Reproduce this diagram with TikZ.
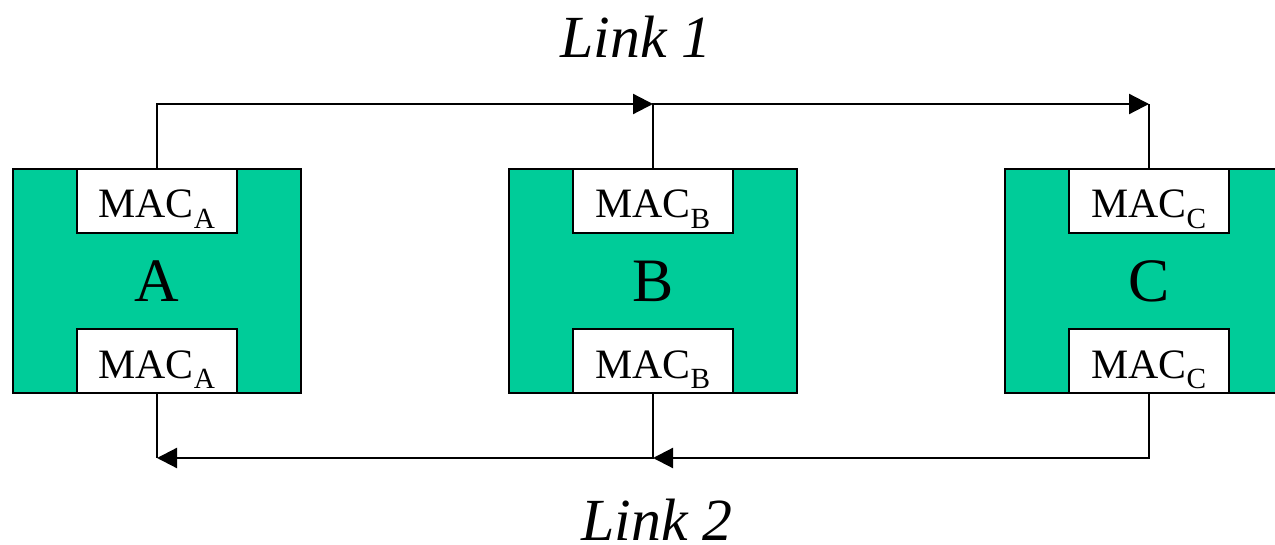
\documentclass[tikz,border=0pt]{standalone}
\usepackage{fontspec}
\setmainfont{Liberation Serif}
\usetikzlibrary{arrows.meta,positioning}
\definecolor{stationgreen}{RGB}{0,204,153}

\begin{document}
\begin{tikzpicture}[x=1bp, y=-1bp,
  station/.style={draw, line width=2.2bp, fill=stationgreen, minimum width=288bp,
    minimum height=224bp, inner sep=0pt, outer sep=0pt,
    font=\fontsize{62}{66}\selectfont},
  mac/.style={draw, line width=2.2bp, fill=white, minimum width=160bp,
    minimum height=64bp, inner sep=0pt, outer sep=0pt,
    text height=34bp, text depth=0pt,
    font=\fontsize{42}{46}\selectfont},
  wire/.style={line width=2.2bp},
  link/.style={wire, -{Triangle[length=20bp, width=20bp]}},
  lbl/.style={font=\fontsize{60}{64}\selectfont\itshape, inner sep=0pt},
]
  \useasboundingbox (0,0) rectangle (1275,545);
  \clip (0,0) rectangle (1275,545);

  % --- the three stations ---------------------------------------------
  \node[station] (A) at (157,281) {A};
  \node[station, right=208bp of A] (B) {B};
  \node[station, right=208bp of B] (C) {C};

  % --- one MAC on top and one below, per station ----------------------
  \foreach \s in {A,B,C} {
    \node[mac, below=0pt of \s.north] (top\s) {MAC\textsubscript{\s}};
    \node[mac, above=0pt of \s.south] (bot\s) {MAC\textsubscript{\s}};
  }

  % heights of the two buses
  \coordinate (up) at (0,104);
  \coordinate (down) at (0,458);

  % --- link 1 runs left to right over the top -------------------------
  \draw[link] (topA.north) |- (topB.north |- up);
  \draw[link] (topB.north) |- (topC.north |- up);
  \draw[wire] (topC.north) -- (topC.north |- up);

  % --- link 2 runs right to left underneath ---------------------------
  \draw[link] (botC.south) |- (botB.south |- down);
  \draw[link] (botB.south) |- (botA.south |- down);
  \draw[wire] (botA.south) -- (botA.south |- down);

  \node[lbl] (link1) at (636,37) {Link 1};
  \node[lbl] (link2) at (657,520) {Link 2};
\end{tikzpicture}
\end{document}
